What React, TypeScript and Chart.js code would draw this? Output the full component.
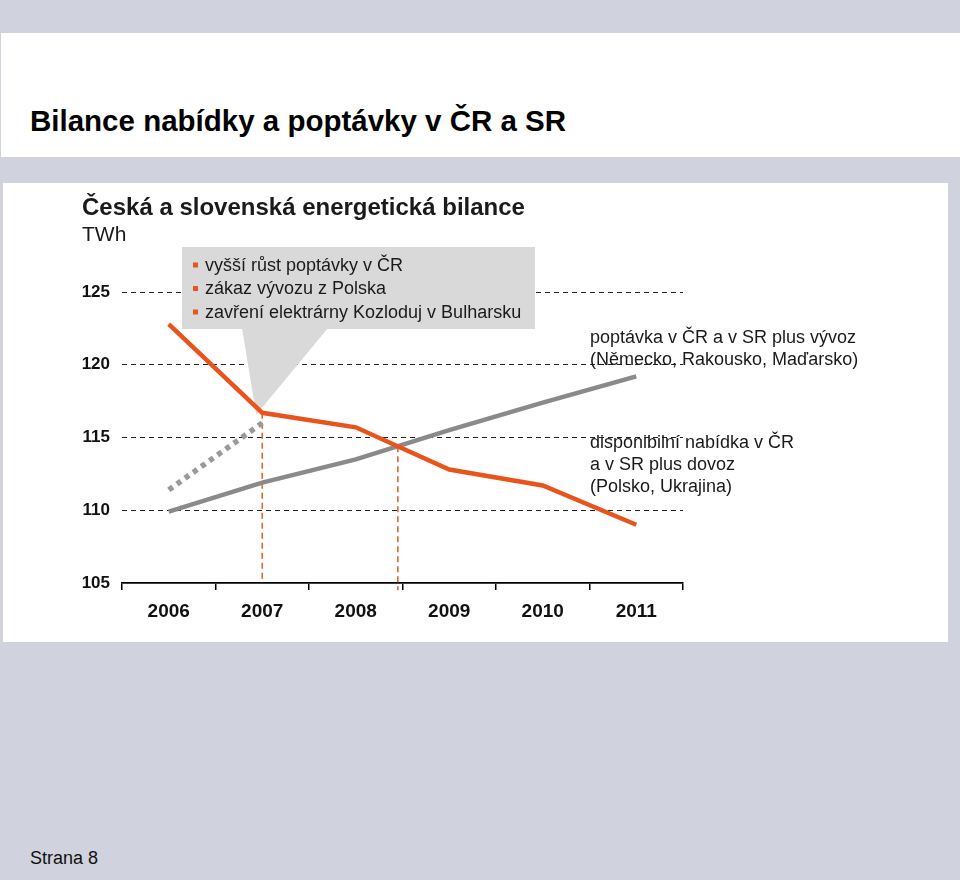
import React, { useEffect, useRef } from "react";
import { Chart, registerables } from "chart.js";

Chart.register(...registerables);

// ---- data ----
const YEARS = [2006, 2007, 2008, 2009, 2010, 2011];
const YEAR_LABELS = ["2006", "2007", "2008", "2009", "2010", "2011"];
// disponibilní nabídka v ČR a v SR plus dovoz (orange)
const SUPPLY = [122.8, 116.7, 115.7, 112.8, 111.7, 109.0];
// poptávka v ČR a v SR plus vývoz (grey)
const DEMAND = [109.9, 111.9, 113.5, 115.5, 117.4, 119.2];
// higher demand growth scenario (grey dotted), 2006–2007
const DEMAND_HIGH_YEARS = [2006, 2007];
const DEMAND_HIGH = [111.4, 116.0];
// vertical marker lines
const MARK1_YEAR = 2007;
const MARK2_YEAR = 2008.45;
const MARK2_VALUE = 114.4;
const Y_MIN = 105;
const Y_MAX = 125;
const Y_STEP = 5;

const CALLOUT_LINES = [
  "vyšší růst poptávky v ČR",
  "zákaz vývozu z Polska",
  "zavření elektrárny Kozloduj v Bulharsku",
];
const DEMAND_LABEL = ["poptávka v ČR a v SR plus vývoz", "(Německo, Rakousko, Maďarsko)"];
const SUPPLY_LABEL = ["disponibilní nabídka v ČR", "a v SR plus dovoz", "(Polsko, Ukrajina)"];
const CHART_TITLE = "Česká a slovenská energetická bilance";
const UNIT = "TWh";
const PAGE_TITLE = "Bilance nabídky a poptávky v ČR a SR";
const PAGE_FOOT = "Strana 8";

const FONT = "'Liberation Sans', Arial, Helvetica, sans-serif";
const ORANGE = "#e8541c";
const GREY = "#8a8a8a";

const overlay = {
  id: "overlay",
  beforeDatasetsDraw(chart: any) {
    const ctx = chart.ctx;
    const xs = chart.scales.x2;
    const ys = chart.scales.y;
    ctx.save();
    ctx.fillStyle = "#d9d9d9";
    ctx.fillRect(182, 247, 353, 82);
    const tipX = xs.getPixelForValue(MARK1_YEAR) - 6;
    const tipY = ys.getPixelForValue(SUPPLY[1]) + 2;
    ctx.beginPath();
    ctx.moveTo(242, 328);
    ctx.lineTo(328, 328);
    ctx.lineTo(tipX, tipY);
    ctx.closePath();
    ctx.fill();
    ctx.font = `18px ${FONT}`;
    ctx.textBaseline = "middle";
    ctx.textAlign = "left";
    const centers = [266, 289.5, 313];
    CALLOUT_LINES.forEach((t, i) => {
      ctx.fillStyle = ORANGE;
      ctx.fillRect(193, centers[i] - 3.5, 5, 5);
      ctx.fillStyle = "#1a1a1a";
      ctx.fillText(t, 205, centers[i]);
    });
    ctx.restore();
  },
  afterDraw(chart: any) {
    const ctx = chart.ctx;
    ctx.save();
    ctx.fillStyle = "#1a1a1a";
    ctx.textAlign = "left";
    ctx.textBaseline = "alphabetic";
    ctx.font = `bold 24px ${FONT}`;
    ctx.fillText(CHART_TITLE, 82, 215);
    ctx.font = `21px ${FONT}`;
    ctx.fillText(UNIT, 82, 241);
    ctx.font = `18px ${FONT}`;
    ctx.textBaseline = "middle";
    DEMAND_LABEL.forEach((t, i) => ctx.fillText(t, 590, 338 + i * 22));
    SUPPLY_LABEL.forEach((t, i) => ctx.fillText(t, 590, 443 + i * 22));
    ctx.restore();
  },
};

export default function App() {
  const ref = useRef<HTMLCanvasElement | null>(null);
  useEffect(() => {
    if (!ref.current) return;
    const chart = new Chart(ref.current, {
      type: "line",
      data: {
        labels: YEAR_LABELS,
        datasets: [
          {
            label: "disponibilní nabídka",
            data: YEARS.map((y, i) => ({ x: y, y: SUPPLY[i] })),
            borderColor: ORANGE,
            borderWidth: 4.5,
            pointRadius: 0,
            tension: 0,
            xAxisID: "x2",
            yAxisID: "y",
          },
          {
            label: "poptávka",
            data: YEARS.map((y, i) => ({ x: y, y: DEMAND[i] })),
            borderColor: GREY,
            borderWidth: 4.5,
            pointRadius: 0,
            tension: 0,
            xAxisID: "x2",
            yAxisID: "y",
          },
          {
            label: "poptávka (vyšší růst)",
            data: DEMAND_HIGH_YEARS.map((y, i) => ({ x: y, y: DEMAND_HIGH[i] })),
            borderColor: "#9a9a9a",
            borderWidth: 5.5,
            borderDash: [5, 5],
            borderCapStyle: "butt",
            pointRadius: 0,
            tension: 0,
            xAxisID: "x2",
            yAxisID: "y",
          },
          {
            label: "mark1",
            data: [
              { x: MARK1_YEAR, y: SUPPLY[1] },
              { x: MARK1_YEAR, y: Y_MIN },
            ],
            borderColor: "#e2652e",
            borderWidth: 1.6,
            borderDash: [6, 4],
            pointRadius: 0,
            xAxisID: "x2",
            yAxisID: "y",
          },
          {
            label: "mark2",
            data: [
              { x: MARK2_YEAR, y: MARK2_VALUE },
              { x: MARK2_YEAR, y: 104.5 },
            ],
            borderColor: "#e2652e",
            borderWidth: 1.6,
            borderDash: [6, 4],
            pointRadius: 0,
            clip: false,
            xAxisID: "x2",
            yAxisID: "y",
          },
        ],
      },
      options: {
        responsive: false,
        animation: false,
        layout: { padding: { left: 0, right: 277, top: 292, bottom: 247 } },
        plugins: { legend: { display: false }, tooltip: { enabled: false }, title: { display: false } },
        scales: {
          x: {
            type: "category",
            labels: YEAR_LABELS,
            offset: true,
            grid: {
              offset: true,
              drawOnChartArea: false,
              drawTicks: true,
              tickLength: 7,
              color: "#000",
              lineWidth: 1.5,
            },
            border: { display: true, color: "#000", width: 1.8 },
            ticks: { font: { family: FONT, size: 19, weight: "bold" }, color: "#111", padding: 10, maxRotation: 0 },
            afterFit: (s: any) => {
              s.height = 50;
            },
          },
          x2: {
            type: "linear",
            display: false,
            min: YEARS[0] - 0.5,
            max: YEARS[YEARS.length - 1] + 0.5,
          },
          y: {
            type: "linear",
            min: Y_MIN,
            max: Y_MAX,
            ticks: { stepSize: Y_STEP, font: { family: FONT, size: 17, weight: "bold" }, color: "#111", padding: 12 },
            grid: {
              color: (c: any) => (c.tick && c.tick.value === Y_MIN ? "rgba(0,0,0,0)" : "#222"),
              lineWidth: 1,
              drawTicks: false,
            },
            border: { display: false, dash: [5, 4] },
            afterFit: (s: any) => {
              s.width = 122;
            },
          },
        },
      },
      plugins: [overlay],
    } as any);
    return () => chart.destroy();
  }, []);

  return (
    <div
      style={{
        position: "absolute",
        left: 0,
        top: 0,
        width: 960,
        height: 880,
        background: "#d0d3dd",
        overflow: "hidden",
        fontFamily: FONT,
      }}
    >
      <div style={{ position: "absolute", left: 1, top: 33, width: 959, height: 124, background: "#fff" }} />
      <div
        style={{
          position: "absolute",
          left: 30,
          top: 106,
          fontSize: 29.5,
          lineHeight: "30px",
          fontWeight: "bold",
          color: "#000",
          whiteSpace: "nowrap",
        }}
      >
        {PAGE_TITLE}
      </div>
      <div style={{ position: "absolute", left: 3, top: 183, width: 945, height: 459, background: "#fff" }} />
      <div
        style={{
          position: "absolute",
          left: 30,
          top: 849,
          fontSize: 18,
          lineHeight: "18px",
          color: "#111",
          whiteSpace: "nowrap",
        }}
      >
        {PAGE_FOOT}
      </div>
      <canvas ref={ref} width={960} height={880} style={{ position: "absolute", left: 0, top: 0 }} />
    </div>
  );
}
